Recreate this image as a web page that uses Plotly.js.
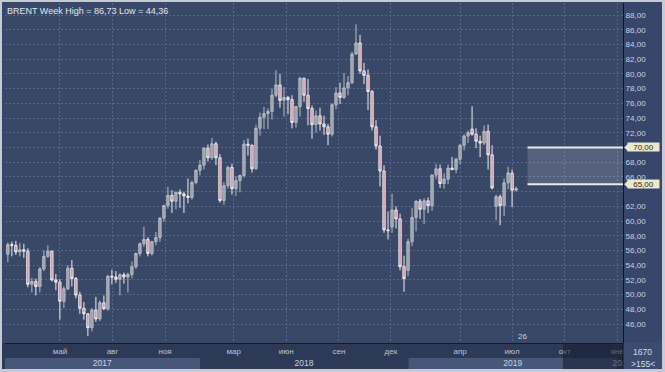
<!DOCTYPE html>
<html>
<head>
<meta charset="utf-8">
<script src="https://cdn.plot.ly/plotly-3.0.1.min.js"></script>
<style>
  html, body { margin: 0; padding: 0; background: #c6cad1; width: 665px; height: 372px; overflow: hidden; }
  #chart { position: absolute; left: 2px; top: 2px; width: 660px; height: 367px; }
</style>
</head>
<body>
<div id="chart"></div>
<script>
// ---- data (weekly BRENT candles) ----
const weeks = [
  '2017-01-30','2017-02-06','2017-02-13','2017-02-20','2017-02-27','2017-03-06','2017-03-13','2017-03-20','2017-03-27','2017-04-03',
  '2017-04-10','2017-04-17','2017-04-24','2017-05-01','2017-05-08','2017-05-15','2017-05-22','2017-05-29','2017-06-05','2017-06-12',
  '2017-06-19','2017-06-26','2017-07-03','2017-07-10','2017-07-17','2017-07-24','2017-07-31','2017-08-07','2017-08-14','2017-08-21',
  '2017-08-28','2017-09-04','2017-09-11','2017-09-18','2017-09-25','2017-10-02','2017-10-09','2017-10-16','2017-10-23','2017-10-30',
  '2017-11-06','2017-11-13','2017-11-20','2017-11-27','2017-12-04','2017-12-11','2017-12-18','2017-12-25',
  '2018-01-01','2018-01-08','2018-01-15','2018-01-22','2018-01-29','2018-02-05','2018-02-12','2018-02-19','2018-02-26','2018-03-05',
  '2018-03-12','2018-03-19','2018-03-26','2018-04-02','2018-04-09','2018-04-16','2018-04-23','2018-04-30','2018-05-07','2018-05-14',
  '2018-05-21','2018-05-28','2018-06-04','2018-06-11','2018-06-18','2018-06-25','2018-07-02','2018-07-09','2018-07-16','2018-07-23',
  '2018-07-30','2018-08-06','2018-08-13','2018-08-20','2018-08-27','2018-09-03','2018-09-10','2018-09-17','2018-09-24','2018-10-01',
  '2018-10-08','2018-10-15','2018-10-22','2018-10-29','2018-11-05','2018-11-12','2018-11-19','2018-11-26','2018-12-03','2018-12-10',
  '2018-12-17','2018-12-24','2018-12-31',
  '2019-01-07','2019-01-14','2019-01-21','2019-01-28','2019-02-04','2019-02-11','2019-02-18','2019-02-25','2019-03-04','2019-03-11',
  '2019-03-18','2019-03-25','2019-04-01','2019-04-08','2019-04-15','2019-04-22','2019-04-29','2019-05-06','2019-05-13','2019-05-20',
  '2019-05-27','2019-06-03','2019-06-10','2019-06-17','2019-06-24','2019-07-01','2019-07-08'
];
const openP = [
  55.5,56.8,56.7,55.8,56.1,55.9,51.4,51.8,51.1,53.5,55.2,55.9,52.0,51.7,49.1,50.8,53.6,52.2,49.95,48.15,
  47.4,45.5,47.9,46.7,48.9,48.1,52.5,52.4,52.1,52.7,52.4,52.75,53.8,55.6,56.9,57.5,55.6,57.2,57.75,60.4,
  62.1,63.5,62.7,63.9,63.7,63.4,63.2,65.25,
  66.9,67.6,69.9,68.6,70.5,68.6,62.8,64.8,67.3,64.4,65.5,66.2,70.45,70.3,67.1,72.6,74.1,74.6,74.9,77.1,
  78.5,76.4,76.8,76.5,73.4,75.55,79.4,77.1,75.3,73.1,74.3,73.2,72.8,71.8,75.8,77.4,76.8,78.1,78.8,82.7,
  84.2,80.4,79.8,77.6,72.8,70.2,66.8,58.8,59.2,61.5,60.3,53.8,53.3,
  57.2,60.5,62.7,61.6,62.75,62.1,66.25,67.1,65.1,65.7,67.2,67.0,68.4,70.3,71.55,72.5,71.8,70.85,70.6,72.2,
  69.0,62.0,63.3,62.1,65.2,66.5,64.2
];
const highP = [
  57.1,57.2,57.3,57.0,56.9,56.3,52.3,52.2,53.7,56.0,56.7,56.0,52.8,52.1,51.1,54.0,54.7,52.4,50.4,49.0,
  47.5,48.2,49.7,49.2,49.9,52.7,53.4,53.2,52.9,53.0,53.0,54.5,55.7,57.1,59.2,57.8,57.3,58.5,60.5,62.2,
  64.65,64.2,64.0,64.3,64.0,65.8,65.5,67.0,
  68.3,70.05,70.4,71.3,70.8,69.1,65.3,67.5,67.8,66.1,66.3,71.0,71.2,70.4,73.1,74.75,75.5,75.3,78.0,80.5,
  80.0,78.2,77.0,77.1,75.6,79.6,79.5,79.3,75.7,75.0,75.4,74.3,73.2,76.0,78.2,78.8,80.1,79.7,83.0,86.73,
  85.3,81.5,80.6,77.8,73.7,71.6,67.6,61.3,63.7,62.0,61.0,55.3,57.6,
  61.8,62.8,63.0,63.1,63.2,66.3,67.8,67.7,66.5,67.7,68.7,68.6,70.4,71.8,72.3,75.6,72.6,71.6,73.0,73.1,
  70.3,63.6,63.6,65.8,67.4,67.0,64.7
];
const lowP = [
  54.4,55.2,55.4,55.2,55.0,51.0,50.3,49.9,50.3,53.2,55.0,51.8,50.6,46.6,48.2,50.6,51.1,49.5,47.4,46.6,
  44.36,45.0,46.3,46.4,47.9,47.8,51.4,51.6,49.9,51.5,50.3,52.2,53.5,55.2,56.5,55.2,55.3,56.7,57.2,59.9,
  61.7,61.1,61.6,61.8,61.1,62.4,62.9,65.0,
  66.2,67.0,68.1,68.3,67.6,62.5,62.2,64.4,63.6,63.4,63.9,65.9,68.9,66.6,67.0,71.6,72.5,72.5,73.8,76.8,
  75.4,74.2,74.5,72.6,72.7,74.2,76.2,73.0,71.2,72.0,72.3,71.7,70.3,71.5,75.2,75.9,76.6,77.1,78.6,82.6,
  80.0,78.6,75.1,72.3,69.7,64.7,58.4,57.5,58.4,59.0,53.3,50.4,52.5,
  56.6,58.6,60.3,59.6,61.1,61.4,65.7,64.5,64.4,65.0,66.9,66.5,67.7,69.6,70.6,71.6,69.9,68.7,70.3,67.0,
  64.3,60.1,59.45,60.7,64.3,61.9,64.0
];
const closeP = [
  56.8,56.7,55.8,56.1,55.9,51.4,51.8,51.1,53.5,55.2,55.9,52.0,51.7,49.1,50.8,53.6,52.2,49.95,48.15,47.4,
  45.5,47.9,46.7,48.9,48.1,52.5,52.4,52.1,52.7,52.4,52.75,53.8,55.6,56.9,57.5,55.6,57.2,57.75,60.4,62.1,
  63.5,62.7,63.9,63.7,63.4,63.2,65.25,66.9,
  67.6,69.9,68.6,70.5,68.6,62.8,64.8,67.3,64.4,65.5,66.2,70.45,70.3,67.1,72.6,74.1,74.6,74.9,77.1,78.5,
  76.4,76.8,76.5,73.4,75.55,79.4,77.1,75.3,73.1,74.3,73.2,72.8,71.8,75.8,77.4,76.8,78.1,78.8,82.7,84.2,
  80.4,79.8,77.6,72.8,70.2,66.8,58.8,58.7,61.5,60.3,53.8,52.2,57.2,
  60.5,62.7,61.6,62.75,62.1,66.25,67.1,65.1,65.7,67.2,67.0,68.4,70.3,71.55,72.0,71.8,70.85,70.6,72.2,69.0,
  64.5,63.3,62.1,65.2,66.55,64.2,64.4
];

// axis labels
const monthTickDates  = ['2017-05-01','2017-08-01','2017-11-01','2018-03-01','2018-06-01','2018-09-01','2018-12-01','2019-04-01','2019-07-01','2019-10-01','2020-01-01'];
const monthTickLabels = ['май','авг','ноя','мар','июн','сен','дек','апр','июл','окт','янв'];
const yearTickDates   = ['2017-07-14','2018-07-02','2019-07-02','2020-01-09'];
const yearTickLabels  = ['2017','2018','2019','2020'];
const priceTicks = [46,48,50,52,54,56,58,60,62,64,66,68,70,72,74,76,78,80,82,84,86,88];
const levelHigh = 70, levelLow = 65;
const levelLabels = ['70,00','65,00'];
const titleText = 'BRENT Week High = 86,73 Low = 44,36';
const weekLabel = '26';
const counterTop = '1670', counterBottom = '>155<';

// price labels covered by the level tags in the reference are left blank
const hiddenTicks = [64, 70];
const priceTickText = priceTicks.map(v => hiddenTicks.indexOf(v) >= 0 ? '' : v.toFixed(2).replace('.', ','));

const xRange = ['2017-01-25', '2020-01-11'];
const yRange = [43.43, 89.63];
const zoneStart = '2019-07-28';
const futureStart = '2019-09-28';

const plotW = 618, plotH = 340;
const stripB = -26 / plotH, yearTop = -15 / plotH;
const boxRight = 1 + 39 / plotW;
const tagW = 4 / plotW;

const traces = [
  {
    type: 'candlestick', x: weeks, open: openP, high: highP, low: lowP, close: closeP,
    xaxis: 'x', yaxis: 'y',
    increasing: { line: { color: '#b9bdc5', width: 1 }, fillcolor: '#989ca6' },
    decreasing: { line: { color: '#eeeef1', width: 1 }, fillcolor: '#cf8498' },
    whiskerwidth: 0, hoverinfo: 'skip', showlegend: false
  },
  { type: 'scatter', mode: 'markers', x: [weeks[0]], y: [null], xaxis: 'x2', yaxis: 'y',
    hoverinfo: 'skip', showlegend: false }
];

const gridCol = '#56678a';
const layout = {
  width: 660, height: 367,
  margin: { l: 3, r: 39, t: 1, b: 26, pad: 0 },
  paper_bgcolor: '#37466a',
  plot_bgcolor: '#3a4868',
  separators: ', ',
  showlegend: false,
  boxgap: 0.18,
  font: { family: 'Liberation Sans, Arial, sans-serif', size: 8, color: '#c8d2e6' },
  xaxis: {
    type: 'date', range: xRange, rangeslider: { visible: false },
    tickmode: 'array', tickvals: monthTickDates, ticktext: monthTickLabels,
    showgrid: true, gridcolor: gridCol, griddash: '2px,2px', gridwidth: 1,
    ticks: '', showline: true, linecolor: '#141b2b', linewidth: 1,
    tickfont: { size: 8, color: '#b9c3d8' }, zeroline: false, fixedrange: true
  },
  xaxis2: {
    type: 'date', range: xRange, overlaying: 'x', side: 'bottom', anchor: 'y',
    tickmode: 'array', tickvals: yearTickDates, ticktext: yearTickLabels,
    showgrid: false, ticks: '', ticklabelstandoff: 13, showline: false, zeroline: false,
    tickfont: { size: 8.5, color: '#c9d1e1' }
  },
  yaxis: {
    side: 'right', range: yRange, tickmode: 'array', tickvals: priceTicks, ticktext: priceTickText,
    showgrid: true, gridcolor: gridCol, griddash: '2px,2px', gridwidth: 1,
    ticks: '', showline: true, linecolor: '#0f1522', linewidth: 1, zeroline: false,
    tickfont: { size: 8, color: '#c9d3e6' }, fixedrange: true
  },
  shapes: [
    { type: 'rect', xref: 'paper', yref: 'paper', x0: -0.01, x1: 1, y0: stripB, y1: 0,
      fillcolor: '#2d3a57', line: { width: 0 }, layer: 'below' },
    { type: 'rect', xref: 'x', yref: 'paper', x0: '2017-01-01', x1: '2018-01-01', y0: stripB, y1: yearTop,
      fillcolor: '#46577a', line: { width: 0 }, layer: 'below' },
    { type: 'rect', xref: 'x', yref: 'paper', x0: '2019-01-01', x1: '2020-01-01', y0: stripB, y1: yearTop,
      fillcolor: '#46577a', line: { width: 0 }, layer: 'below' },
    { type: 'rect', xref: 'x', yref: 'y', x0: zoneStart, x1: xRange[1], y0: levelLow, y1: levelHigh,
      fillcolor: 'rgba(255,255,255,0.14)', line: { width: 0 }, layer: 'above' },
    { type: 'line', xref: 'x', yref: 'y', x0: zoneStart, x1: xRange[1], y0: levelHigh, y1: levelHigh,
      line: { color: '#e9e9eb', width: 2 }, layer: 'above' },
    { type: 'line', xref: 'x', yref: 'y', x0: zoneStart, x1: xRange[1], y0: levelLow, y1: levelLow,
      line: { color: '#e9e9eb', width: 2 }, layer: 'above' },
    { type: 'rect', xref: 'x', yref: 'paper', x0: futureStart, x1: xRange[1], y0: stripB, y1: -0.004,
      fillcolor: 'rgba(20,27,44,0.55)', line: { width: 0 }, layer: 'above' },
    { type: 'rect', xref: 'paper', yref: 'paper', x0: 1, x1: boxRight, y0: stripB, y1: 0,
      fillcolor: '#3b4c6f', line: { width: 0 }, layer: 'above' },
    { type: 'line', xref: 'paper', yref: 'paper', x0: 1, x1: 1, y0: stripB, y1: 0,
      line: { color: '#0f1522', width: 1 }, layer: 'above' },
    { type: 'path', xref: 'paper', yref: 'y',
      path: 'M 1.002,' + levelHigh + ' L ' + (1 + tagW + 0.002) + ',' + (levelHigh + 0.55) + ' L ' + (1 + tagW + 0.002) + ',' + (levelHigh - 0.55) + ' Z',
      fillcolor: '#ebe8cb', line: { width: 0 }, layer: 'above' },
    { type: 'path', xref: 'paper', yref: 'y',
      path: 'M 1.002,' + levelLow + ' L ' + (1 + tagW + 0.002) + ',' + (levelLow + 0.55) + ' L ' + (1 + tagW + 0.002) + ',' + (levelLow - 0.55) + ' Z',
      fillcolor: '#ebe8cb', line: { width: 0 }, layer: 'above' }
  ],
  annotations: [
    { text: titleText, xref: 'paper', yref: 'paper', x: 0, y: 1, xanchor: 'left', yanchor: 'top',
      xshift: 0, yshift: -1, showarrow: false, font: { size: 9, color: '#e2e7f0' } },
    { text: levelLabels[0], xref: 'paper', yref: 'y', x: 1, y: levelHigh, xanchor: 'left', yanchor: 'middle',
      xshift: 4, showarrow: false, bgcolor: '#ebe8cb', borderpad: 0, width: 31, height: 8, align: 'center',
      font: { size: 8, color: '#262626' } },
    { text: levelLabels[1], xref: 'paper', yref: 'y', x: 1, y: levelLow, xanchor: 'left', yanchor: 'middle',
      xshift: 4, showarrow: false, bgcolor: '#ebe8cb', borderpad: 0, width: 31, height: 8, align: 'center',
      font: { size: 8, color: '#262626' } },
    { text: weekLabel, xref: 'x', yref: 'paper', x: '2019-07-20', y: 0, xanchor: 'center', yanchor: 'bottom',
      showarrow: false, font: { size: 8, color: '#c8d0e0' } },
    { text: counterTop, xref: 'paper', yref: 'paper', x: 1 + 19.5 / plotW, y: 0, xanchor: 'center', yanchor: 'middle',
      yshift: -9, showarrow: false, font: { size: 8.5, color: '#d3daea' } },
    { text: counterBottom, xref: 'paper', yref: 'paper', x: 1 + 19.5 / plotW, y: 0, xanchor: 'center', yanchor: 'middle',
      yshift: -21, showarrow: false, font: { size: 8.5, color: '#d3daea' } }
  ]
};

Plotly.newPlot('chart', traces, layout, { displayModeBar: false, staticPlot: true });
</script>
</body>
</html>
